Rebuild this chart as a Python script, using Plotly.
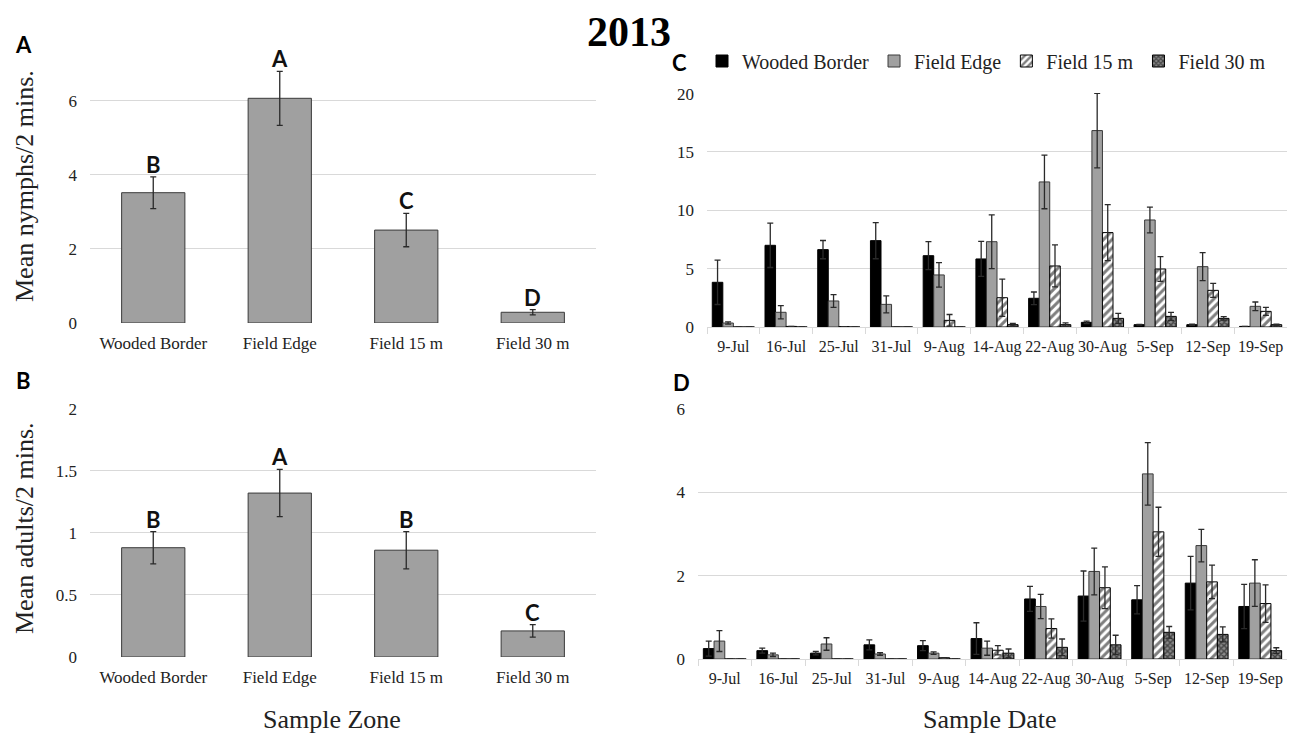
import plotly.graph_objects as go

# ---------------- data ----------------
zones = ["Wooded Border", "Field Edge", "Field 15 m", "Field 30 m"]
nymph_mean = [3.52, 6.07, 2.51, 0.29]
nymph_se = [0.43, 0.73, 0.45, 0.07]
nymph_letters = ["B", "A", "C", "D"]
adult_mean = [0.88, 1.32, 0.86, 0.21]
adult_se = [0.13, 0.19, 0.15, 0.05]
adult_letters = ["B", "A", "B", "C"]

dates = ["9-Jul", "16-Jul", "25-Jul", "31-Jul", "9-Aug", "14-Aug",
         "22-Aug", "30-Aug", "5-Sep", "12-Sep", "19-Sep"]

nymph_wb = [3.83, 7.0, 6.63, 7.4, 6.11, 5.83, 2.46, 0.4, 0.2, 0.2, 0.05]
nymph_wb_se = [1.9, 1.9, 0.78, 1.55, 1.2, 1.5, 0.54, 0.1, 0.03, 0.05, 0]
nymph_fe = [0.34, 1.26, 2.23, 1.94, 4.46, 7.31, 12.43, 16.83, 9.17, 5.17, 1.77]
nymph_fe_se = [0.1, 0.57, 0.54, 0.73, 1.05, 2.3, 2.3, 3.2, 1.1, 1.2, 0.37]
nymph_f15 = [0, 0.05, 0.03, 0, 0.57, 2.51, 5.23, 8.09, 4.97, 3.14, 1.34]
nymph_f15_se = [0, 0, 0, 0, 0.5, 1.6, 1.8, 2.4, 1.06, 0.6, 0.35]
nymph_f30 = [0, 0, 0, 0, 0, 0.2, 0.2, 0.74, 0.91, 0.74, 0.2]
nymph_f30_se = [0, 0, 0, 0, 0, 0.1, 0.15, 0.43, 0.35, 0.15, 0.05]

adult_wb = [0.25, 0.2, 0.14, 0.34, 0.32, 0.49, 1.44, 1.51, 1.42, 1.82, 1.26]
adult_wb_se = [0.18, 0.06, 0.04, 0.12, 0.12, 0.38, 0.3, 0.6, 0.34, 0.64, 0.53]
adult_fe = [0.43, 0.1, 0.36, 0.12, 0.14, 0.26, 1.26, 2.1, 4.44, 2.72, 1.82]
adult_fe_se = [0.25, 0.04, 0.15, 0.03, 0.03, 0.17, 0.29, 0.56, 0.75, 0.39, 0.56]
adult_f15 = [0, 0, 0, 0, 0.03, 0.21, 0.73, 1.71, 3.05, 1.85, 1.33]
adult_f15_se = [0, 0, 0, 0, 0, 0.11, 0.23, 0.5, 0.59, 0.4, 0.45]
adult_f30 = [0, 0, 0, 0, 0, 0.14, 0.28, 0.34, 0.64, 0.59, 0.2]
adult_f30_se = [0, 0, 0, 0, 0, 0.1, 0.2, 0.23, 0.14, 0.18, 0.07]

series_names = ["Wooded Border", "Field Edge", "Field 15 m", "Field 30 m"]

# ---------------- styling ----------------
# the page body adds an 8 px margin, so the figure starts at (8, 8) of the window
OFF = 8
W, H = 1295 - OFF, 738 - OFF
SERIF = "Liberation Serif, Times New Roman, serif"
SANS = "Lato, Liberation Sans, Arial, sans-serif"
GRAY = "#a0a0a0"
EDGE = "#3a3a3a"
GRID = "#d9d9d9"


def fx(x):
    return (x - OFF) / W


def fy(y):
    return 1 - (y - OFF) / H


def px_x(a, b):
    return [fx(a), fx(b)]


def px_y(top, bottom):
    return [fy(bottom), fy(top)]


def err(arr):
    return dict(type="data", array=arr, color="#2a2a2a", thickness=1.3, width=3)


styles = [
    dict(color="#000000", line=dict(color="#000000", width=1)),
    dict(color=GRAY, line=dict(color=EDGE, width=1)),
    dict(color="#ffffff", line=dict(color="#000000", width=1),
         pattern=dict(shape="/", fgcolor="#000000", bgcolor="#ffffff", size=6, solidity=0.5)),
    dict(color="#222222", line=dict(color="#000000", width=1),
         pattern=dict(shape="x", fgcolor="#000000", bgcolor="#8a8a8a", size=4, solidity=0.6)),
]

fig = go.Figure()

# Panel A
fig.add_trace(go.Bar(x=zones, y=nymph_mean, error_y=err(nymph_se), width=0.5,
                     marker=dict(color=GRAY, line=dict(color=EDGE, width=1)),
                     xaxis="x", yaxis="y", showlegend=False))
# Panel B
fig.add_trace(go.Bar(x=zones, y=adult_mean, error_y=err(adult_se), width=0.5,
                     marker=dict(color=GRAY, line=dict(color=EDGE, width=1)),
                     xaxis="x2", yaxis="y2", showlegend=False))

# Panel C
c_vals = [(nymph_wb, nymph_wb_se), (nymph_fe, nymph_fe_se),
          (nymph_f15, nymph_f15_se), (nymph_f30, nymph_f30_se)]
for i, (v, e) in enumerate(c_vals):
    fig.add_trace(go.Bar(x=dates, y=v, error_y=err(e), name=series_names[i],
                         marker=styles[i], xaxis="x3", yaxis="y3",
                         offsetgroup=str(i), showlegend=True, legendgroup=str(i)))
# Panel D
d_vals = [(adult_wb, adult_wb_se), (adult_fe, adult_fe_se),
          (adult_f15, adult_f15_se), (adult_f30, adult_f30_se)]
for i, (v, e) in enumerate(d_vals):
    fig.add_trace(go.Bar(x=dates, y=v, error_y=err(e), name=series_names[i],
                         marker=styles[i], xaxis="x4", yaxis="y4",
                         offsetgroup=str(i), showlegend=False, legendgroup=str(i)))

tickfont = dict(family=SERIF, size=17, color="#222222")
datefont = dict(family=SERIF, size=16, color="#222222")

xcommon = dict(type="category", showgrid=False, zeroline=False, fixedrange=True,
               automargin=False, tickangle=0)
ycommon = dict(showgrid=True, gridcolor=GRID, gridwidth=1.3, zeroline=False,
               showline=False, ticks="", tickfont=tickfont, ticklabelstandoff=12,
               automargin=False)

annotations = []
letter_font = dict(family=SANS, size=22, color="#111111", weight="bold")
# significance letters
for z, m, s, l in zip(zones, nymph_mean, nymph_se, nymph_letters):
    annotations.append(dict(x=z, y=m + s, xref="x", yref="y", text=l, showarrow=False,
                            yanchor="bottom", yshift=-3, font=letter_font))
for z, m, s, l in zip(zones, adult_mean, adult_se, adult_letters):
    annotations.append(dict(x=z, y=m + s, xref="x2", yref="y2", text=l, showarrow=False,
                            yanchor="bottom", yshift=-3, font=letter_font))


def paper_text(text, xp, yp, font, angle=0):
    annotations.append(dict(x=fx(xp), y=fy(yp), xref="paper", yref="paper", text=text,
                            showarrow=False, xanchor="center", yanchor="middle",
                            textangle=angle, font=font))


panel_font = dict(family=SANS, size=22, color="#000000", weight="bold")
paper_text("A", 23, 45, panel_font)
paper_text("B", 23, 381, panel_font)
paper_text("C", 679, 62, panel_font)
paper_text("D", 681, 382, panel_font)
paper_text("2013", 629, 32, dict(family=SERIF, size=42, color="#000000", weight="bold"))
paper_text("Mean nymphs/2 mins.", 24, 186, dict(family=SERIF, size=26, color="#222222"), -90)
paper_text("Mean adults/2 mins.", 24, 528, dict(family=SERIF, size=26, color="#222222"), -90)
paper_text("Sample Zone", 332, 719, dict(family=SERIF, size=26, color="#222222"))
paper_text("Sample Date", 990, 719, dict(family=SERIF, size=26, color="#222222"))

xa = dict(tickfont=tickfont, ticks="", ticklabelstandoff=8)
xc = dict(tickfont=datefont, showline=True, linecolor=GRID, linewidth=1.3, ticks="outside",
          tickson="boundaries", ticklen=6, tickcolor=GRID, tickwidth=1.3, ticklabelstandoff=5)

fig.update_layout(
    width=W, height=H,
    margin=dict(l=0, r=0, t=0, b=0, autoexpand=False),
    paper_bgcolor="white", plot_bgcolor="white",
    barmode="group", bargap=0.2, bargroupgap=0,
    xaxis=dict(**xcommon, **xa, domain=px_x(90, 596), anchor="y"),
    yaxis=dict(**ycommon, domain=px_y(55, 323), range=[0, 7.24], tickvals=[0, 2, 4, 6], anchor="x"),
    xaxis2=dict(**xcommon, **xa, domain=px_x(90, 596), anchor="y2"),
    yaxis2=dict(**ycommon, domain=px_y(408, 657), range=[0, 2.005],
                tickvals=[0, 0.5, 1, 1.5, 2], ticktext=["0", "0.5", "1", "1.5", "2"], anchor="x2"),
    xaxis3=dict(**xcommon, **xc, domain=px_x(707, 1287), anchor="y3"),
    yaxis3=dict(**ycommon, domain=px_y(93, 327), range=[0, 20.05],
                tickvals=[0, 5, 10, 15, 20], anchor="x3"),
    xaxis4=dict(**xcommon, **xc, domain=px_x(698, 1287), anchor="y4"),
    yaxis4=dict(**ycommon, domain=px_y(408, 659), range=[0, 6.02],
                tickvals=[0, 2, 4, 6], anchor="x4"),
    legend=dict(orientation="h", x=fx(702), y=fy(61), xanchor="left", yanchor="middle",
                font=dict(family=SERIF, size=20, color="#222222"), itemwidth=30,
                bgcolor="rgba(0,0,0,0)", itemclick=False, itemdoubleclick=False,
                traceorder="normal"),
    annotations=annotations,
)

fig.write_html("out.html")
